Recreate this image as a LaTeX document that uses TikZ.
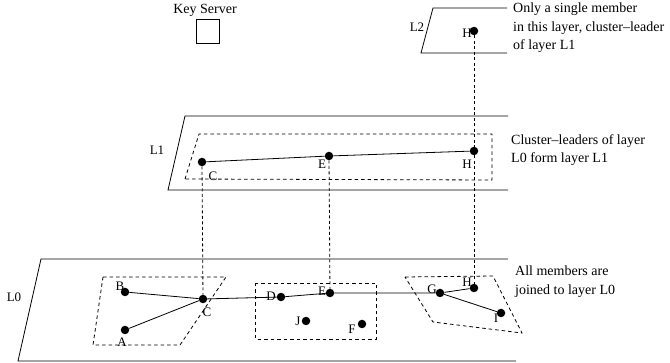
\documentclass[tikz,border=0pt]{standalone}
\usepackage{fontspec}
\setmainfont{Liberation Serif}
\begin{document}
\begin{tikzpicture}[x=1pt,y=-1pt,
  dot/.style={circle,fill=black,inner sep=0pt,minimum size=8.5pt},
  lbl/.style={font=\fontsize{13}{15}\selectfont,inner sep=0pt},
  txt/.style={font=\fontsize{14}{18.5}\selectfont,align=left,anchor=north west,inner sep=0pt},
  plane/.style={line width=0.8pt},
  clus/.style={line width=0.8pt,dash pattern=on 3.5pt off 3pt},
  vlink/.style={line width=0.8pt,dash pattern=on 3pt off 2.5pt},
  edge/.style={line width=0.8pt}]
\useasboundingbox (0,0) rectangle (670,363);

% Key server
\node[font=\fontsize{14}{16}\selectfont,inner sep=0pt] (kstext) at (205,10) {Key Server};
\node[draw,line width=0.8pt,minimum width=23pt,minimum height=24pt,inner sep=0pt] (ks) at (207.5,31) {};

% planes (open on the right)
\draw[plane] (507,8) -- (433,8) -- (421,53) -- (507,53);
\draw[plane] (508,116) -- (185,116) -- (168,190) -- (508,190);
\draw[plane] (508,259) -- (41,259) -- (18,361) -- (516,361);

\node[lbl] (tL2) at (417,27) {L2};
\node[lbl] (tL1) at (157,150) {L1};
\node[lbl] (tL0) at (14,297) {L0};

% clusters
\draw[clus] (185,179) -- (199,134) -- (492,134) -- (492,180) -- cycle;
\draw[clus] (103,277) -- (226,277) -- (180,345) -- (93,345) -- cycle;
\draw[clus] (255,283) rectangle (376,339);
\draw[clus] (405,277) -- (493,276) -- (522,333) -- (433,322) -- cycle;

% members
\node[dot] (h2) at (474,31) {};
\node[dot] (c1) at (202,162) {};
\node[dot] (e1) at (329,156) {};
\node[dot] (h1) at (474,151) {};
\node[dot] (b0) at (125,292) {};
\node[dot] (c0) at (203,299) {};
\node[dot] (a0) at (125,330) {};
\node[dot] (d0) at (281,297) {};
\node[dot] (e0) at (330,293) {};
\node[dot] (j0) at (306,321) {};
\node[dot] (f0) at (362,324) {};
\node[dot] (g0) at (440,293) {};
\node[dot] (h0) at (474,288) {};
\node[dot] (i0) at (501,313) {};

% labels
\node[lbl] (lh2) at (467,33) {H};
\node[lbl] (lc1) at (213,176) {C};
\node[lbl] (le1) at (322,164) {E};
\node[lbl] (lh1) at (467,164) {H};
\node[lbl] (lb0) at (120,286) {B};
\node[lbl] (lc0) at (207,312) {C};
\node[lbl] (la0) at (122,342) {A};
\node[lbl] (ld0) at (271,296) {D};
\node[lbl] (le0) at (322,291) {E};
\node[lbl] (lj0) at (298,321) {J};
\node[lbl] (lf0) at (352,329) {F};
\node[lbl] (lg0) at (432,289) {G};
\node[lbl] (lh0) at (467,282) {H};
\node[lbl] (li0) at (496,318) {I};

% layer links
\draw[edge] (c1) -- (e1) -- (h1);
\draw[edge] (b0) -- (c0);
\draw[edge] (a0) -- (c0);
\draw[edge] (c0) -- (d0) -- (e0) -- (g0);
\draw[edge] (g0) -- (h0);
\draw[edge] (g0) -- (i0);

% vertical leader links
\draw[vlink] (c1) -- (c0);
\draw[vlink] (e1) -- (e0);
\draw[vlink] (h2) -- (h1);
\draw[vlink] (h1) -- (h0);

% texts
\node[txt] (t2) at (513,3) {Only a single member\\in this layer, cluster--leader\\of layer L1};
\node[txt] (t1) at (511,134) {Cluster--leaders of layer\\L0 form layer L1};
\node[txt] (t0) at (515,266) {All members are\\joined to layer L0};
\end{tikzpicture}
\end{document}
